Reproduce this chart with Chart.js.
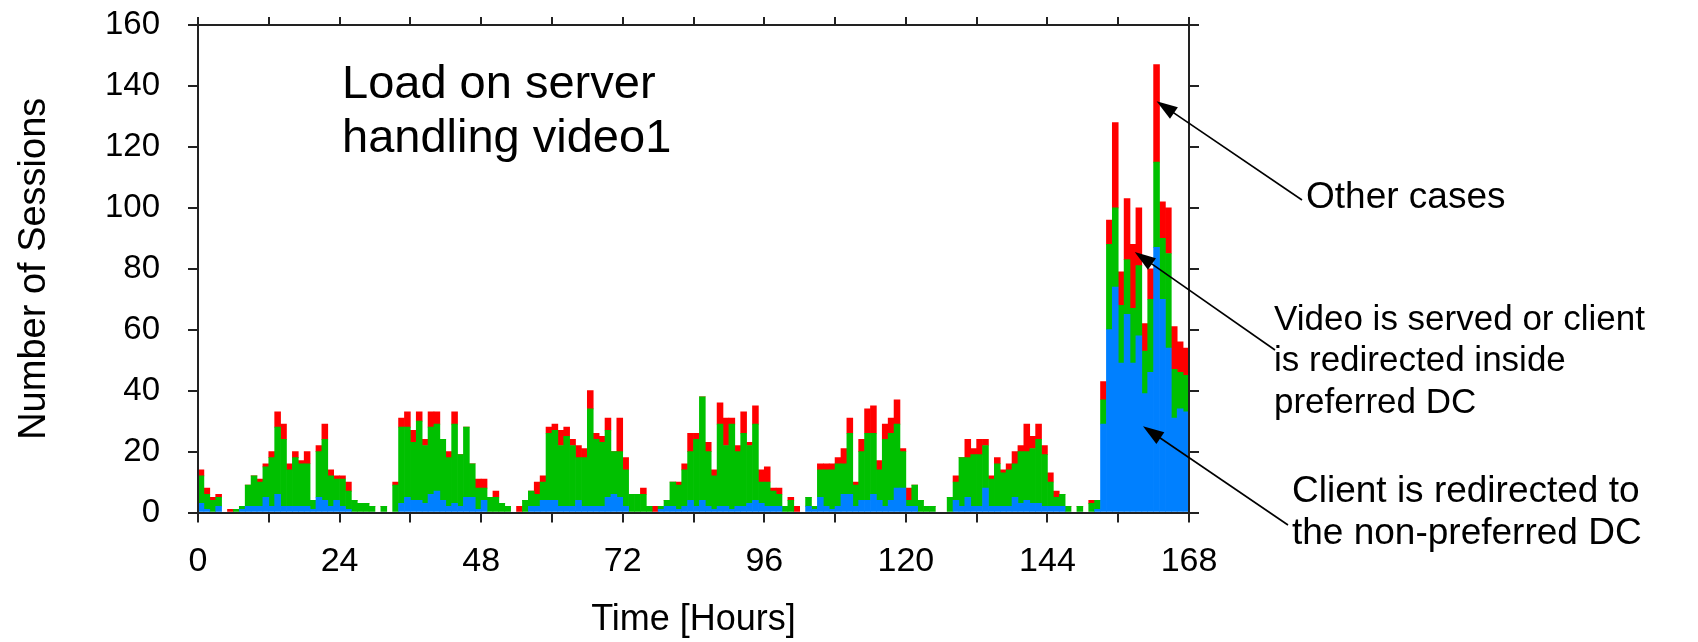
<!DOCTYPE html>
<html>
<head>
<meta charset="utf-8">
<script src="https://cdn.jsdelivr.net/npm/chart.js@4.4.1/dist/chart.umd.min.js"></script>
<style>
  html, body { margin: 0; padding: 0; background: #fff; }
  #wrap { width: 1698px; height: 642px; }
</style>
</head>
<body>
<div id="wrap"><canvas id="chart" width="1698" height="642"></canvas></div>
<script>
// hourly bins, 0..167
const hourLabels = [
  0,1,2,3,4,5,6,7,8,9,10,11,12,13,14,15,16,17,18,19,20,21,22,23,
  24,25,26,27,28,29,30,31,32,33,34,35,36,37,38,39,40,41,42,43,44,45,46,47,
  48,49,50,51,52,53,54,55,56,57,58,59,60,61,62,63,64,65,66,67,68,69,70,71,
  72,73,74,75,76,77,78,79,80,81,82,83,84,85,86,87,88,89,90,91,92,93,94,95,
  96,97,98,99,100,101,102,103,104,105,106,107,108,109,110,111,112,113,114,115,116,117,118,119,
  120,121,122,123,124,125,126,127,128,129,130,131,132,133,134,135,136,137,138,139,140,141,142,143,
  144,145,146,147,148,149,150,151,152,153,154,155,156,157,158,159,160,161,162,163,164,165,166,167
];

// client redirected to the non-preferred DC (blue)
const redirectedOut = [
  3,1,0,2,0,0,0,1,2,2, 2,5,2,6,2,2,2,2,2,1, 5,4,2,4,2,1,0,0,0,0,
  0,0,0,0,3,5,4,4,3,6, 7,4,2,3,2,5,5,1,4,0, 0,0,0,0,0,0,2,2,4,4,
  4,2,2,2,4,2,2,2,2,5, 6,5,2,0,0,0,0,0,1,2, 2,1,2,4,2,4,2,1,2,2,
  1,2,2,3,4,3,2,2,2,0, 0,0,0,2,1,5,2,1,2,6, 6,2,4,4,6,4,2,4,8,8,
  2,2,0,0,0,0,0,0,4,2, 5,2,2,8,2,2,2,2,5,3, 4,3,3,2,2,2,2,0,0,0,
  0,0,1,29,60,74,49,65,49,58, 39,46,87,70,54,31,34,33
];

// served or redirected inside preferred DC (green)
const insidePreferred = [
  9,5,4,3,0,0,1,1,7,10, 8,10,16,22,22,12,16,14,14,3, 15,20,10,7,9,6,4,3,3,2,
  0,2,0,9,25,23,19,26,19,22, 22,20,16,26,17,23,11,7,4,5, 5,3,2,0,0,4,5,4,6,22,
  23,20,23,20,14,16,32,22,21,22, 14,15,12,6,6,6,2,0,1,2, 8,8,12,16,22,34,18,11,27,20,
  28,18,24,19,25,7,8,5,4,2, 4,0,0,3,1,9,12,13,14,10, 20,7,16,22,20,10,22,22,21,12,
  2,7,4,2,2,0,0,5,6,16, 13,17,17,14,9,14,11,12,11,17, 16,18,21,17,8,3,4,2,0,2,
  0,3,3,8,28,26,19,18,18,23, 14,24,28,20,31,16,12,12
];

// other cases (red)
const otherCases = [
  2,2,1,1,0,1,0,0,0,0, 1,1,2,5,5,2,2,1,4,0, 2,5,2,1,1,3,0,0,0,0,
  0,0,0,1,3,5,4,3,2,5, 4,0,2,4,0,0,0,3,3,0, 2,0,0,0,2,0,0,4,2,2,
  2,5,3,2,4,3,6,2,2,4, 0,11,4,0,0,2,0,2,0,0, 0,1,2,6,2,0,3,2,7,9,
  2,2,7,1,6,4,5,1,2,0, 1,2,0,0,0,2,2,2,2,5, 5,1,4,8,9,3,5,5,8,1,
  4,0,0,0,0,0,0,0,2,0, 6,2,5,2,1,2,1,2,4,2, 9,4,5,3,3,2,0,0,0,0,
  0,1,0,6,8,28,11,20,21,19, 9,10,32,12,15,14,10,9
];

const yTicks = [0, 20, 40, 60, 80, 100, 120, 140, 160];
const xTicks = [0, 24, 48, 72, 96, 120, 144, 168];

const BLUE = '#0080ff';
const GREEN = '#00c000';
const RED = '#ff0000';
const AXIS = '#222';
const FONT = '"Liberation Sans", Arial, sans-serif';

// callouts: text block, where the arrow leaves the text, and the data point it hits
const callouts = [
  { lines: ['Other cases'], size: 37, x: 1306, y: 198, from: [1302, 200], tip: [162.5, 135] },
  { lines: ['Video is served or client', 'is redirected inside', 'preferred DC'], size: 35,
    x: 1274, y: 320, from: [1275, 350], tip: [158.8, 85.5] },
  { lines: ['Client is redirected to', 'the non-preferred DC'], size: 37,
    x: 1292, y: 492, from: [1288, 525], tip: [160.2, 28.3] }
];

function arrow(ctx, x0, y0, x1, y1) {
  const a = Math.atan2(y1 - y0, x1 - x0);
  const len = 21, half = 7;
  ctx.beginPath();
  ctx.moveTo(x0, y0);
  ctx.lineTo(x1 - Math.cos(a) * len * 0.8, y1 - Math.sin(a) * len * 0.8);
  ctx.stroke();
  ctx.beginPath();
  ctx.moveTo(x1, y1);
  ctx.lineTo(x1 - Math.cos(a) * len + Math.sin(a) * half, y1 - Math.sin(a) * len - Math.cos(a) * half);
  ctx.lineTo(x1 - Math.cos(a) * len - Math.sin(a) * half, y1 - Math.sin(a) * len + Math.cos(a) * half);
  ctx.closePath();
  ctx.fill();
}

const notes = {
  id: 'notes',
  afterDraw(chart) {
    const { ctx } = chart;
    const xs = chart.scales.xBottom, ys = chart.scales.y;
    ctx.save();
    ctx.fillStyle = '#000';
    ctx.strokeStyle = '#000';
    ctx.lineWidth = 1.6;
    ctx.textBaseline = 'middle';
    ctx.textAlign = 'left';
    ctx.font = '47px ' + FONT;
    ctx.fillText('Load on server', 342, 85);
    ctx.fillText('handling video1', 342, 139);
    callouts.forEach(c => {
      ctx.font = c.size + 'px ' + FONT;
      c.lines.forEach((t, i) => ctx.fillText(t, c.x, c.y + i * 41.5));
      arrow(ctx, c.from[0], c.from[1], xs.getPixelForValue(c.tip[0]), ys.getPixelForValue(c.tip[1]));
    });
    ctx.restore();
  }
};

const frameGrid = { drawOnChartArea: false, drawTicks: true, offset: false, color: AXIS, lineWidth: 2, z: 1 };
const frameBorder = { display: true, color: AXIS, width: 2, z: 1 };

// pin each axis box to the size of the reference frame
function pinBox(size, horizontal) {
  return s => {
    if (horizontal) s.height = size; else s.width = size;
    s.paddingTop = 0; s.paddingBottom = 0; s.paddingLeft = 0; s.paddingRight = 0;
  };
}

new Chart(document.getElementById('chart'), {
  type: 'bar',
  data: {
    labels: hourLabels,
    datasets: [
      { label: 'Client is redirected to the non-preferred DC', data: redirectedOut, backgroundColor: BLUE, xAxisID: 'x', yAxisID: 'y' },
      { label: 'Video is served or client is redirected inside preferred DC', data: insidePreferred, backgroundColor: GREEN, xAxisID: 'x', yAxisID: 'y' },
      { label: 'Other cases', data: otherCases, backgroundColor: RED, xAxisID: 'x', yAxisID: 'y' }
    ]
  },
  options: {
    responsive: false,
    animation: false,
    layout: { padding: 0 },
    datasets: { bar: { barPercentage: 1, categoryPercentage: 1, borderWidth: 0 } },
    plugins: { legend: { display: false }, tooltip: { enabled: false } },
    scales: {
      x: { type: 'category', stacked: true, display: false },
      xBottom: {
        type: 'linear', axis: 'x', position: 'bottom', min: 0, max: 168, offset: false,
        grid: { ...frameGrid, tickLength: 10 },
        border: frameBorder,
        ticks: {
          stepSize: 12, autoSkip: false, maxRotation: 0, padding: 19,
          color: '#000', font: { size: 34, family: FONT },
          callback: v => xTicks.includes(v) ? String(v) : ''
        },
        title: { display: true, text: 'Time [Hours]', color: '#000', font: { size: 36, family: FONT }, padding: { top: 0, bottom: 0 } },
        afterFit: pinBox(129.5, true)
      },
      xTop: {
        type: 'linear', axis: 'x', position: 'top', min: 0, max: 168, offset: false,
        grid: { ...frameGrid, tickLength: 8 },
        border: frameBorder,
        ticks: { stepSize: 12, display: false },
        afterFit: pinBox(25, true)
      },
      y: {
        type: 'linear', position: 'left', stacked: true, min: 0, max: 160,
        grid: { ...frameGrid, tickLength: 10 },
        border: frameBorder,
        ticks: {
          stepSize: 20, padding: 28, color: '#000', font: { size: 33, family: FONT },
          callback: v => yTicks.includes(v) ? String(v) : ''
        },
        title: { display: true, text: 'Number of Sessions', color: '#000', font: { size: 38, family: FONT }, padding: { top: 12, bottom: 0 } },
        afterFit: pinBox(198, false)
      },
      yRight: {
        type: 'linear', axis: 'y', position: 'right', min: 0, max: 160,
        grid: { ...frameGrid, tickLength: 10 },
        border: frameBorder,
        ticks: { stepSize: 20, display: false },
        afterFit: pinBox(509, false)
      }
    }
  },
  plugins: [notes]
});
</script>
</body>
</html>
